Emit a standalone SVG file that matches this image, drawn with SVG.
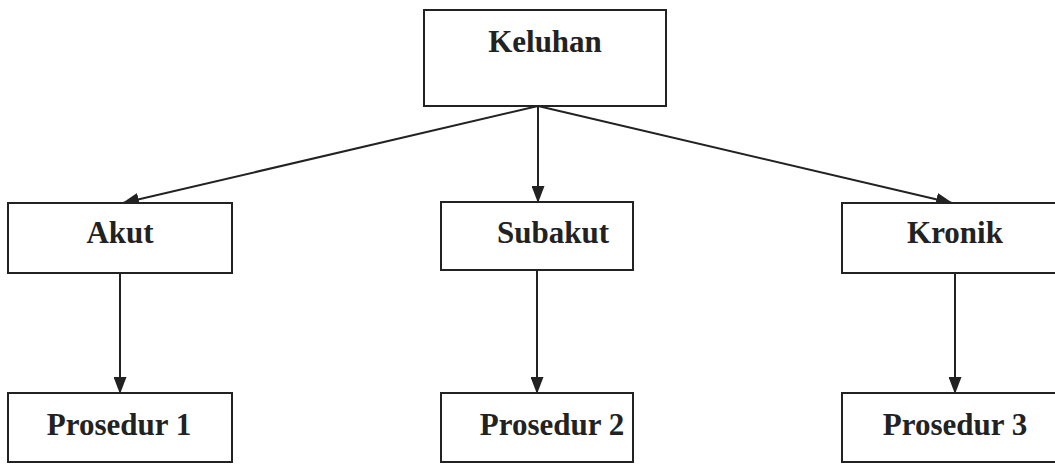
<svg xmlns="http://www.w3.org/2000/svg" width="1055" height="464" viewBox="0 0 1055 464">
<defs>
<style>
.box{fill:#fff;stroke:#222;stroke-width:2}
.lbl{font-family:"Liberation Serif","Times New Roman",serif;font-weight:bold;font-size:31px;fill:#222;text-anchor:middle}
.con{stroke:#222;stroke-width:2;fill:none;marker-end:url(#ah)}
</style>
<marker id="ah" markerUnits="userSpaceOnUse" markerWidth="17" markerHeight="13" refX="16" refY="6.5" orient="auto">
<path d="M0,0 L17,6.5 L0,13 Z" fill="#222"/>
</marker>
</defs>
<rect width="1055" height="464" fill="#fff"/>
<g id="connectors">
<line class="con" x1="538" y1="106" x2="123" y2="203"/>
<line class="con" x1="538" y1="106" x2="538" y2="202"/>
<line class="con" x1="538" y1="106" x2="952" y2="203"/>
<line class="con" x1="120" y1="273" x2="120" y2="393"/>
<line class="con" x1="537" y1="270" x2="537" y2="393"/>
<line class="con" x1="955" y1="273" x2="955" y2="393"/>
</g>
<g id="keluhan"><rect class="box" x="424" y="10" width="242" height="96"/><text class="lbl" x="545" y="52">Keluhan</text></g>
<g id="akut"><rect class="box" x="8" y="203" width="224" height="70"/><text class="lbl" x="120" y="243">Akut</text></g>
<g id="subakut"><rect class="box" x="441" y="202" width="192" height="68"/><text class="lbl" x="553" y="243">Subakut</text></g>
<g id="kronik"><rect class="box" x="842" y="203" width="220" height="70"/><text class="lbl" x="955" y="243">Kronik</text></g>
<g id="prosedur1"><rect class="box" x="8" y="393" width="224" height="69"/><text class="lbl" x="119" y="435">Prosedur 1</text></g>
<g id="prosedur2"><rect class="box" x="441" y="393" width="192" height="69"/><text class="lbl" x="552" y="435">Prosedur 2</text></g>
<g id="prosedur3"><rect class="box" x="842" y="393" width="220" height="69"/><text class="lbl" x="955" y="435">Prosedur 3</text></g>
</svg>
